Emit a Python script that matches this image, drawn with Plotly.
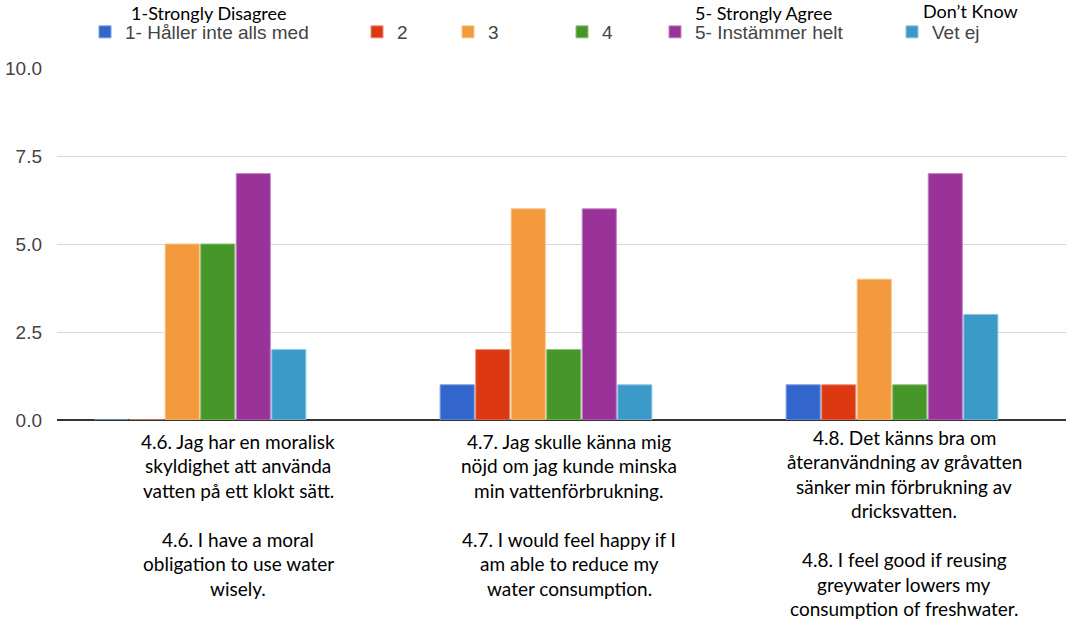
import plotly.graph_objects as go

# ---------------- data ----------------
categories = [
    "4.6. Jag har en moralisk\nskyldighet att använda\nvatten på ett klokt sätt.\n\n4.6. I have a moral\nobligation to use water\nwisely.",
    "4.7. Jag skulle känna mig\nnöjd om jag kunde minska\nmin vattenförbrukning.\n\n4.7. I would feel happy if I\nam able to reduce my\nwater consumption.",
    "4.8. Det känns bra om\nåteranvändning av gråvatten\nsänker min förbrukning av\ndricksvatten.\n\n4.8. I feel good if reusing\ngreywater lowers my\nconsumption of freshwater.",
]
series_names = ["1- Håller inte alls med", "2", "3", "4", "5- Instämmer helt", "Vet ej"]
values_1 = [0, 1, 1]
values_2 = [0, 2, 1]
values_3 = [5, 6, 4]
values_4 = [5, 2, 1]
values_5 = [7, 6, 7]
values_vet_ej = [2, 1, 3]
series_values = [values_1, values_2, values_3, values_4, values_5, values_vet_ej]
y_tick_values = [0, 2.5, 5, 7.5, 10]
y_tick_labels = ["0.0", "2.5", "5.0", "7.5", "10.0"]
english_notes = ["1-Strongly Disagree", "5- Strongly Agree", "Don’t Know"]

# ---------------- style ----------------
colors = ["#3366cc", "#dc3912", "#f39a3c", "#47962a", "#993399", "#3c9ac9"]
edge_colors = ["#7d9ce0", "#ec8a78", "#f8c288", "#8cc077", "#c285c2", "#8cc4e2"]
W, H = 1070, 622
L, R, T, B = 57, 4, 68, 202
PW, PH = W - L - R, H - T - B

def px_x(p):
    return (p - L) / PW

def px_y(p):
    return 1 + (T - p) / PH

legend_text_starts = [125, 397, 488, 602, 695, 932]
label_shifts = [38, 23, 12]
label_first_offsets = [21, 21, 17]
label_line_step = 24.5
note_centers = [(209, 13), (763, 13), (970, 11)]

fig = go.Figure()
xs = list(range(len(categories)))
for i, (name, vals) in enumerate(zip(series_names, series_values)):
    lg = "legend" if i == 0 else f"legend{i+1}"
    fig.add_trace(go.Bar(
        x=xs, y=vals, name=name,
        marker=dict(color=colors[i], line=dict(color=edge_colors[i], width=1)),
        legend=lg, hoverinfo="y+name",
    ))

layout_legends = {}
for i, ts in enumerate(legend_text_starts):
    key = "legend" if i == 0 else f"legend{i+1}"
    layout_legends[key] = dict(
        orientation="h", x=px_x(ts - 40), y=px_y(32),
        xanchor="left", yanchor="middle",
        font=dict(family="Arial, Liberation Sans, sans-serif", size=19, color="#444444"),
        bgcolor="rgba(0,0,0,0)", borderwidth=0,
    )

annotations = []
# category labels, line by line
for ci, text in enumerate(categories):
    for k, line in enumerate(text.split("\n")):
        if not line:
            continue
        annotations.append(dict(
            x=ci, xref="x", y=0, yref="paper",
            xshift=label_shifts[ci],
            yshift=-(label_first_offsets[ci] + label_line_step * k),
            text=line, showarrow=False, xanchor="center", yanchor="middle",
            font=dict(family="Lato, Carlito, sans-serif", size=19, color="#000000"),
        ))
for note, (cx, cy) in zip(english_notes, note_centers):
    annotations.append(dict(
        x=px_x(cx), xref="paper", y=px_y(cy), yref="paper",
        text=note, showarrow=False, xanchor="center", yanchor="middle",
        font=dict(family="Lato, Carlito, sans-serif", size=18, color="#000000"),
    ))

fig.update_layout(
    width=W, height=H,
    margin=dict(l=L, r=R, t=T, b=B, pad=0),
    paper_bgcolor="white", plot_bgcolor="white",
    barmode="group", bargap=0.384, bargroupgap=0.04,
    annotations=annotations,
    showlegend=True,
    **layout_legends,
)
fig.update_xaxes(
    range=[(L - 200) / 346, (W - R - 200) / 346],
    showticklabels=False, showgrid=False, zeroline=False, ticks="",
    showline=False,
)
fig.update_yaxes(
    range=[0, 10], tickvals=y_tick_values, ticktext=y_tick_labels,
    showgrid=True, gridcolor="#d9d9d9", gridwidth=1,
    zeroline=True, zerolinecolor="#333333", zerolinewidth=2,
    ticks="", ticklabelstandoff=14,
    tickfont=dict(family="Arial, Liberation Sans, sans-serif", size=19, color="#444444"),
)

fig.write_html("out.html")
